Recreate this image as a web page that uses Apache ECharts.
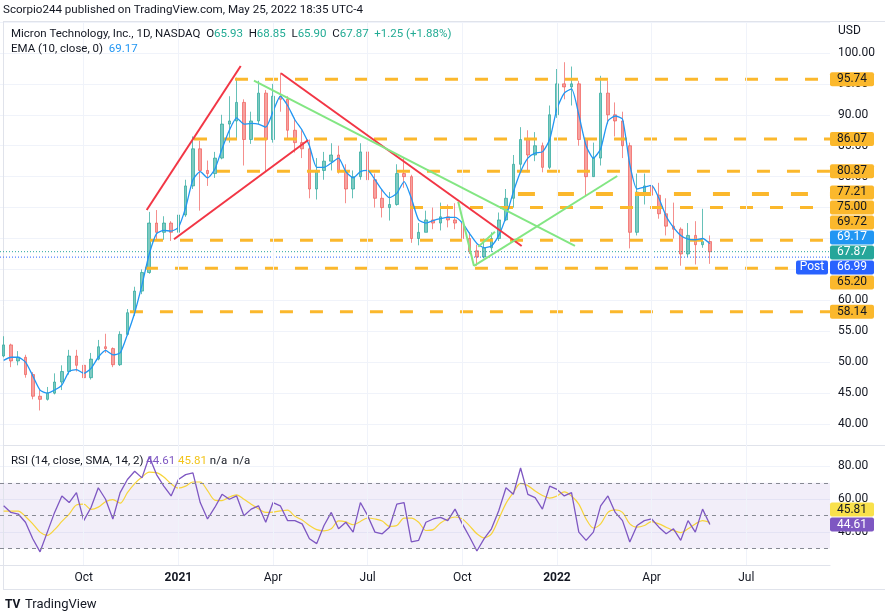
<!DOCTYPE html>
<html>
<head>
<meta charset="utf-8">
<script src="https://cdn.jsdelivr.net/npm/echarts@6/dist/echarts.min.js"></script>
<style>
  html, body { margin: 0; padding: 0; background: #fff; }
  #chart { width: 885px; height: 615px; }
</style>
</head>
<body>
<div id="chart"></div>
<script>
// weekly bars, Monday of each week, from 2020-07-13
var firstWeek = '2020-07-13';
var weekCount = 114;   // axis runs on past the last bar, like the reference
var tickWeeks = ['2020-09-28', '2020-12-28', '2021-03-29', '2021-06-28', '2021-09-27', '2021-12-27', '2022-03-28', '2022-06-27'];
var tickNames = ['Oct', '2021', 'Apr', 'Jul', 'Oct', '2022', 'Apr', 'Jul'];

// open, close, low, high
var weeklyOHLC = [
  [51, 52.8, 50.8, 54.2], [52.8, 50.2, 49.2, 53], [50.2, 50.8, 49.5, 51.8], [50.8, 48, 47.5, 51.2],
  [48, 44.5, 44, 48.4], [44.5, 44, 42.2, 45.5], [44, 45, 43.8, 46], [45, 46.8, 44.8, 48.2],
  [46.8, 48.5, 45.5, 49.5], [48.5, 51, 48, 52], [51, 49.5, 48.5, 52], [49.5, 47.5, 46.5, 50.5],
  [47.5, 50.5, 47.2, 51.5], [50.5, 52.5, 50.3, 53.6], [52.5, 52.2, 51.5, 54.6], [52.2, 49.6, 49.2, 52.4],
  [49.6, 54.5, 49.4, 55], [54.5, 58, 54.3, 58.6], [58, 61.5, 57.5, 62.2], [61.5, 64.5, 61, 65],
  [64.5, 72.5, 64.3, 74.3], [72.5, 71, 69.8, 74.6], [71, 72.5, 69.8, 73.6], [72.5, 71, 69.6, 72.8],
  [71, 73.8, 70.8, 74.5], [73.8, 78.5, 73.5, 79.5], [78.5, 84.5, 78, 86.5], [84.5, 81, 74.5, 85.8],
  [81, 80.5, 78.5, 82.6], [80.5, 83, 79.8, 84], [83, 88.5, 82.8, 90], [88.5, 89, 85.5, 93],
  [89, 92, 86, 96], [92, 86, 81.8, 92.5], [86, 89, 85.3, 90.5], [89, 93.5, 88.5, 95.5],
  [93.5, 86, 80.8, 94], [86, 93, 85.5, 95], [93, 92.5, 90.5, 96.8], [92.5, 87.5, 86, 93],
  [87.5, 85.5, 83.9, 89.5], [85.5, 84.5, 83, 87.5], [84.5, 78, 76.5, 86], [78, 81, 76.3, 83],
  [81, 82.5, 79.5, 84], [82.5, 83.5, 81, 85.4], [83.5, 81, 80.5, 85], [81, 78, 75.7, 82],
  [78, 80, 76.5, 81], [80, 84, 79.5, 85.4], [84, 79.5, 77.2, 84.5], [79.5, 76.5, 75, 80.5],
  [76.5, 75, 73.4, 78], [75, 75.5, 72.9, 77.5], [75.5, 80.5, 75.3, 82], [80.5, 80, 78.2, 83.1],
  [80, 70, 69.3, 80.3], [70, 71, 68.9, 72.5], [71, 73, 71, 74.5], [73, 72.5, 71.5, 75],
  [72.5, 73.5, 71.3, 75.8], [73.5, 73, 71.8, 75.5], [73, 72.5, 71.5, 75.7], [72.5, 70, 69.5, 73.5],
  [70, 68, 67.5, 71], [68, 67, 65.6, 69], [67, 68.5, 66.8, 70], [68.5, 70, 67.8, 71],
  [70, 73, 69.6, 74.2], [73, 76.5, 72.8, 78], [76.5, 82, 75, 83.5], [82, 86, 81, 88],
  [86, 83.5, 80.7, 87.5], [83.5, 85, 82.5, 87.2], [85, 81.5, 80.7, 85.5], [81.5, 90, 81.2, 91.5],
  [90, 95, 89.5, 97.4], [95, 94.5, 92.5, 98.5], [94.5, 95, 91.5, 97.8], [95, 86, 85, 95.5],
  [86, 80, 77, 86.3], [80, 83, 80, 85.5], [83, 93.5, 81.8, 96.3], [93.5, 90, 88.5, 95.5],
  [90, 89, 86.5, 92], [89, 85, 83, 90.5], [85, 71, 68.4, 85.5], [71, 77.5, 70.5, 80.5],
  [77.5, 78.5, 75.5, 80.5], [78.5, 77, 74.8, 86], [77, 74, 73.2, 79], [74, 72, 70.5, 76.5],
  [72, 71.5, 70, 75.8], [71.5, 67.5, 65.6, 71.8], [67.5, 70.5, 67, 72.5], [70.5, 69, 65.8, 72.8],
  [69, 69.5, 68.5, 74.8], [69.5, 67.87, 65.9, 70.5]
];

var ema10 = [
  50.3, 50.8, 50.8, 50, 47.8, 45.5, 45, 45.5, 46.3, 48.5,
  48.8, 48.2, 49, 50.8, 51.9, 51.2, 51.5, 54.5, 58, 62.5,
  67.5, 70.8, 71.3, 71.2, 71.8, 75, 79.5, 80.8, 79.8, 81.2,
  84.5, 87.5, 89.5, 88.5, 88.6, 88.5, 88, 90.5, 93, 91.5,
  89.2, 87.5, 85, 81.5, 81.5, 82.2, 83, 80.8, 79.8, 80.8,
  81, 79.5, 77.8, 76.6, 77.3, 79.2, 76.5, 73, 72.5, 72.9,
  73.2, 73.4, 73.4, 72.5, 70.8, 69.2, 68.5, 68.8, 70.5, 73.5,
  77.5, 80.8, 83, 83.8, 84, 86, 91, 93.5, 94.2, 90,
  85, 83, 84.5, 89, 89.8, 89.3, 82, 78, 78.3, 78.6,
  76.5, 73.6, 71.8, 70.5, 69.9, 69.8, 70, 69.17
];

var rsi14 = [
  56, 52, 51, 46, 36, 28, 40, 52, 62, 58,
  64, 47, 55, 67, 60, 48, 64, 72, 77, 73,
  86, 75, 68, 62, 72, 75, 76, 58, 48, 55,
  63, 60, 62, 50, 54, 56, 46, 58, 56, 47,
  47, 45, 36, 33, 44, 52, 42, 46, 40, 58,
  50, 40, 39, 43, 57, 58, 34, 35, 46, 48,
  49, 47, 54, 45, 37, 28.5, 36, 42, 53, 67,
  63, 79, 63, 61, 54, 68, 66, 62, 64, 40,
  35, 40, 56, 62, 52, 47, 34, 44, 47, 48,
  43, 39, 42, 35, 47, 40, 54, 44.61
];

var rsiSma = [
  52.8, 52.8, 52.8, 49.5, 45, 40, 38, 41.5, 46.5, 51,
  56.5, 57, 53.8, 55.2, 58.5, 59.8, 57.6, 64, 69.5, 73.5,
  76.5, 76.2, 73.5, 69.4, 66.8, 68, 70.5, 70.5, 65.3, 59.5,
  59.2, 61.3, 62.6, 60, 57, 54.2, 52, 52.2, 52.9, 53.4,
  49.6, 47.4, 44, 41.5, 40.8, 42, 46.8, 46.2, 44.5, 46.5,
  48.6, 48, 46.8, 43.5, 44, 48.5, 48.5, 46, 41, 41.5,
  45.6, 48, 49.2, 48, 43.8, 39, 36.5, 39, 48, 57.5,
  64, 69.7, 68.3, 65, 62.3, 60.7, 62, 64.5, 62, 57,
  48, 42.5, 45, 52, 53.5, 52, 45, 43, 44, 46.4,
  45, 43, 41, 39.7, 42, 45, 47, 45.81
];

// horizontal levels: price and the week index where the ray starts
var levelPrices = [95.74, 86.07, 80.87, 77.21, 75.00, 69.72, 65.20, 58.14];
var levelStarts = [31.78, 26.15, 29.3, 70.64, 55.81, 20.1, 19.41, 17.35];

// drawn trend lines: [[weekIndex, price], [weekIndex, price]]
var redLines = [
  [[19.65, 74.61], [32.56, 97.89]],
  [[23.4, 69.87], [41.84, 85.92]],
  [[38.09, 96.71], [71.15, 68.79]]
];
var greenLines = [
  [[34.38, 95.51], [78.47, 68.79]],
  [[62.44, 75.95], [64.6, 65.56]],
  [[64.6, 65.56], [84.28, 80.1]],
  [[65.19, 68.68], [67.48, 71.1]]
];

var lastClose = 67.87;
var postPrice = 66.99;
var emaLast = 69.17;
var rsiLast = 44.61;
var smaLast = 45.81;

var weeks = [];
var d0 = new Date(firstWeek + 'T00:00:00Z');
for (var i = 0; i < weekCount; i++) {
  var d = new Date(d0.getTime() + i * 7 * 86400000);
  weeks.push(d.toISOString().slice(0, 10));
}
var tickIdx = tickWeeks.map(function (w) { return weeks.indexOf(w); });

var FONT = 'Roboto, "Noto Sans", sans-serif';
var TXT = '#131722';
var GRIDC = '#f0f3fa';
var ORANGE = '#fbb82c';
var XMAX = weekCount - 0.5;

var chart = echarts.init(document.getElementById('chart'));

var series = [];

// vertical grid lines
[0, 1].forEach(function (g) {
  series.push({
    type: 'line', xAxisIndex: g * 2 + 1, yAxisIndex: g, data: [], symbol: 'none', silent: true, z: 0,
    markLine: {
      silent: true, symbol: 'none', label: { show: false },
      lineStyle: { color: GRIDC, type: 'solid', width: 1 },
      data: tickIdx.map(function (t) { return { xAxis: t }; })
    }
  });
});

series.push({
  type: 'candlestick', xAxisIndex: 0, yAxisIndex: 0, data: weeklyOHLC, barWidth: '42%', z: 2,
  itemStyle: {
    color: 'rgba(38,166,154,0.6)', color0: 'rgba(239,83,80,0.55)',
    borderColor: 'rgba(38,166,154,0.7)', borderColor0: 'rgba(239,83,80,0.65)', borderWidth: 1
  }
});
series.push({
  type: 'line', xAxisIndex: 0, yAxisIndex: 0, data: ema10, symbol: 'none', smooth: 0.2, z: 4,
  lineStyle: { color: '#2196f3', width: 1.3 }
});

levelPrices.forEach(function (p, k) {
  var thick = p === 77.21;
  series.push({
    type: 'line', xAxisIndex: 1, yAxisIndex: 0, symbol: 'none', silent: true, z: 3,
    data: [[levelStarts[k], p], [XMAX, p]],
    lineStyle: { color: ORANGE, width: thick ? 4 : 3, type: thick ? [17, 22] : [13, 17] }
  });
});

[[lastClose, '#26a69a'], [postPrice, '#2962ff']].forEach(function (e) {
  series.push({
    type: 'line', xAxisIndex: 1, yAxisIndex: 0, symbol: 'none', silent: true, z: 3,
    data: [[-0.5, e[0]], [XMAX, e[0]]],
    lineStyle: { color: e[1], width: 1, type: [1, 2] }
  });
});

redLines.forEach(function (ln) {
  series.push({ type: 'line', xAxisIndex: 1, yAxisIndex: 0, symbol: 'none', silent: true, z: 5,
    data: ln, lineStyle: { color: '#f23645', width: 2 } });
});
greenLines.forEach(function (ln) {
  series.push({ type: 'line', xAxisIndex: 1, yAxisIndex: 0, symbol: 'none', silent: true, z: 5,
    data: ln, lineStyle: { color: '#83e683', width: 2 } });
});

series.push({
  type: 'line', xAxisIndex: 2, yAxisIndex: 1, data: rsi14, symbol: 'none', z: 4,
  lineStyle: { color: '#7e57c2', width: 1.3 },
  markArea: { silent: true, itemStyle: { color: 'rgba(126,87,194,0.1)' }, data: [[{ yAxis: 30 }, { yAxis: 70 }]] },
  markLine: {
    silent: true, symbol: 'none', label: { show: false },
    lineStyle: { color: '#868993', type: [4, 4], width: 1 },
    data: [{ yAxis: 70 }, { yAxis: 50 }, { yAxis: 30 }]
  }
});
series.push({
  type: 'line', xAxisIndex: 2, yAxisIndex: 1, data: rsiSma, symbol: 'none', smooth: 0.3, z: 3,
  lineStyle: { color: '#f7d43a', width: 1.2 }
});

var splitColors = ['rgba(0,0,0,0)'];
for (var s = 0; s < 14; s++) splitColors.push(GRIDC);

chart.setOption({
  animation: false,
  backgroundColor: '#fff',
  textStyle: { fontFamily: FONT },
  grid: [
    { left: 0, right: 55, top: 22, height: 433 },
    { left: 0, right: 55, top: 445, height: 120 }
  ],
  xAxis: [
    { type: 'category', gridIndex: 0, data: weeks, boundaryGap: true, axisLine: { show: false }, axisTick: { show: false }, axisLabel: { show: false }, splitLine: { show: false } },
    { type: 'value', gridIndex: 0, min: -0.5, max: XMAX, show: false },
    {
      type: 'category', gridIndex: 1, data: weeks, boundaryGap: true,
      axisLine: { show: true, lineStyle: { color: '#e0e3eb' } }, axisTick: { show: false }, splitLine: { show: false },
      axisLabel: {
        margin: 7, fontSize: 12, color: TXT, fontFamily: FONT,
        interval: function (idx, val) { return tickWeeks.indexOf(val) >= 0; },
        formatter: function (val) {
          var n = tickNames[tickWeeks.indexOf(val)] || '';
          return /^\d{4}$/.test(n) ? '{y|' + n + '}' : n;
        },
        rich: { y: { fontWeight: 'bold', fontSize: 12, color: TXT, fontFamily: FONT } }
      }
    },
    { type: 'value', gridIndex: 1, min: -0.5, max: XMAX, show: false }
  ],
  yAxis: [
    {
      type: 'value', gridIndex: 0, position: 'right', min: 35, max: 105, interval: 5,
      axisLine: { show: false }, axisTick: { show: false },
      axisLabel: { margin: 8, fontSize: 12, color: TXT, fontFamily: FONT, showMinLabel: false, showMaxLabel: false,
        formatter: function (v) { return v.toFixed(2); } },
      splitLine: { lineStyle: { color: splitColors, width: 1 } }
    },
    {
      type: 'value', gridIndex: 1, position: 'right', min: 20, max: 93, interval: 20,
      axisLine: { show: false }, axisTick: { show: false },
      axisLabel: { margin: 8, fontSize: 12, color: TXT, fontFamily: FONT, showMinLabel: false, showMaxLabel: false,
        formatter: function (v) { return v === 20 ? '' : v.toFixed(2); } },
      splitLine: { lineStyle: { color: GRIDC, width: 1 } }
    }
  ],
  series: series
});

// ---- price-scale labels, stacked like TradingView does ----
function stack(items, h) {
  items.sort(function (a, b) { return a.y - b.y; });
  var cl = items.map(function (it) { return { m: [it] }; });
  function center(c) { var t = 0; c.m.forEach(function (it) { t += it.y; }); return t / c.m.length; }
  var again = true;
  while (again) {
    again = false;
    for (var k = 1; k < cl.length; k++) {
      var a = cl[k - 1], b = cl[k];
      var aBot = center(a) + (a.m.length - 1) / 2 * h + h / 2;
      var bTop = center(b) - (b.m.length - 1) / 2 * h - h / 2;
      if (aBot > bTop) {
        cl.splice(k - 1, 2, { m: a.m.concat(b.m) });
        again = true;
        break;
      }
    }
  }
  cl.forEach(function (c) {
    var c0 = center(c);
    c.m.forEach(function (it, j) { it.py = c0 + (j - (c.m.length - 1) / 2) * h; });
  });
  return items;
}

var py0 = function (v) { return chart.convertToPixel({ yAxisIndex: 0 }, v); };
var py1 = function (v) { return chart.convertToPixel({ yAxisIndex: 1 }, v); };

var tags = levelPrices.map(function (p) { return { y: py0(p), text: p.toFixed(2), bg: ORANGE, fg: '#131722' }; });
tags.push({ y: py0(emaLast), text: emaLast.toFixed(2), bg: '#2196f3', fg: '#fff' });
tags.push({ y: py0(lastClose), text: lastClose.toFixed(2), bg: '#26a69a', fg: '#fff' });
tags.push({ y: py0(postPrice), text: postPrice.toFixed(2), bg: '#2962ff', fg: '#fff', post: true });
stack(tags, 15);

var ry = py1(rsiLast), sy = py1(smaLast);
if (Math.abs(ry - sy) < 15) sy = ry - 15;
tags.push({ py: sy, text: smaLast.toFixed(2), bg: '#f9e14b', fg: '#131722' });
tags.push({ py: ry, text: rsiLast.toFixed(2), bg: '#7e57c2', fg: '#fff' });

var gfx = [];
tags.forEach(function (t) {
  gfx.push({ type: 'rect', z: 50, shape: { x: 830, y: t.py - 7, width: 44, height: 14, r: 2 }, style: { fill: t.bg } });
  gfx.push({ type: 'text', z: 51, x: 852, y: t.py, style: { text: t.text, fill: t.fg, font: '12px ' + FONT, align: 'center', verticalAlign: 'middle' } });
  if (t.post) {
    gfx.push({ type: 'rect', z: 50, shape: { x: 796, y: t.py - 7, width: 32, height: 14, r: 2 }, style: { fill: t.bg } });
    gfx.push({ type: 'text', z: 51, x: 812, y: t.py, style: { text: 'Post', fill: '#fff', font: '12px ' + FONT, align: 'center', verticalAlign: 'middle' } });
  }
});

// frame
function hline(y, x1, x2) { return { type: 'line', z: 1, silent: true, shape: { x1: x1, y1: y, x2: x2, y2: y }, style: { stroke: '#e0e3eb', lineWidth: 1 } }; }
gfx.push(hline(21.5, 3, 885), hline(445.5, 3, 885), hline(589.5, 3, 885));
gfx.push({ type: 'line', z: 1, silent: true, shape: { x1: 3.5, y1: 21, x2: 3.5, y2: 590 }, style: { stroke: '#e0e3eb', lineWidth: 1 } });

// texts
gfx.push({ type: 'text', z: 60, x: 3, y: 10, style: { text: 'Scorpio244 published on TradingView.com, May 25, 2022 18:35 UTC-4', fill: TXT, font: '11.6px ' + FONT, verticalAlign: 'middle' } });
var g = '#22ab94';
var f12 = '11.5px ' + FONT;
gfx.push({ type: 'text', z: 60, x: 11, y: 34, style: {
  text: '{n|Micron Technology, Inc., 1D, NASDAQ}  {n|O}{v|65.93}  {n|H}{v|68.85}  {n|L}{v|65.90}  {n|C}{v|67.87}  {v|+1.25 (+1.88%)}',
  verticalAlign: 'middle', font: f12,
  rich: { n: { fill: TXT, font: f12 }, v: { fill: g, font: f12 } }
} });
gfx.push({ type: 'text', z: 60, x: 11, y: 49, style: {
  text: '{n|EMA (10, close, 0)}  {b|69.17}', verticalAlign: 'middle', font: f12,
  rich: { n: { fill: TXT, font: f12 }, b: { fill: '#2196f3', font: f12 } }
} });
gfx.push({ type: 'text', z: 60, x: 11, y: 461, style: {
  text: '{n|RSI (14, close, SMA, 14, 2)} {p|44.61} {y|45.81} {n|n/a  n/a}', verticalAlign: 'middle', font: f12,
  rich: { n: { fill: TXT, font: f12 }, p: { fill: '#7e57c2', font: f12 }, y: { fill: '#f2c41b', font: f12 } }
} });
gfx.push({ type: 'text', z: 60, x: 838, y: 31, style: { text: 'USD', fill: TXT, font: '12px ' + FONT, verticalAlign: 'middle' } });
gfx.push({ type: 'text', z: 60, x: 5, y: 605, style: { text: 'TV', fill: TXT, font: 'bold 12px ' + FONT, verticalAlign: 'middle' } });
gfx.push({ type: 'text', z: 60, x: 25, y: 605, style: { text: 'TradingView', fill: TXT, font: '13px ' + FONT, verticalAlign: 'middle' } });

chart.setOption({ graphic: gfx });
</script>
</body>
</html>
